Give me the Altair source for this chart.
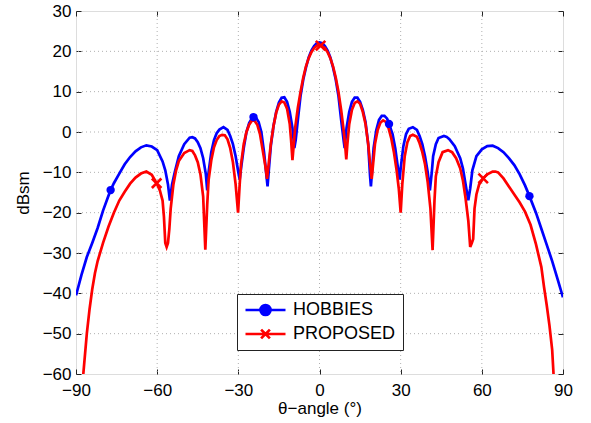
import altair as alt
import pandas as pd

# ---------------- data ----------------
series_names = ["HOBBIES", "PROPOSED"]
series_colors = ["#0000ff", "#ff0000"]

hob_angle = [-90, -88, -86, -84, -82, -80, -78, -77.2, -76, -74, -72, -70, -68, -66, -64, -62, -60,
             -58, -57, -56, -55.3, -54.5, -53.5, -52, -50, -48, -47, -46, -45, -44, -43, -42, -41.5,
             -41, -40, -39, -38, -37, -35.5, -34, -33, -32, -31, -30, -29.5, -29, -28, -27, -26,
             -25, -24.4, -23.5, -22.5, -21.5, -20.5, -19.2, -18.8, -18, -17, -16, -15, -14, -13,
             -12, -11, -10, -9.3, -8.8, -8, -7, -6, -5, -4, -3, -2, -1, 0,
             1, 2, 3, 4, 5, 6, 7, 8, 9, 9.3, 10, 11, 12, 13, 14, 15, 16, 17, 18, 18.7, 19, 19.5,
             20, 21, 22, 23, 24, 25, 25.7, 27, 28, 29, 29.6, 30, 31, 32, 33, 34.5, 36, 37, 38, 39,
             40, 40.8, 41.5, 42, 43, 44, 46, 47, 48, 50, 52, 53, 54, 55, 55.7, 56.5, 58, 60, 62,
             64, 66, 68, 70, 72, 74, 76, 77.6, 80, 82, 84, 86, 88, 90]
hob_dbsm = [-40.5, -35.5, -31, -27.5, -23.8, -19.5, -15.8, -14.4, -12.7, -10.3, -8, -6.2, -4.8, -3.8,
            -3.3, -3.6, -4.5, -7.3, -9.5, -13, -17, -13, -10, -6, -3, -1.4, -1.3, -1.6, -2.5, -4,
            -6.5, -10.5, -14.5, -10, -5, -2, -0.3, 0.6, 1.2, 0.5, -1, -3, -6, -10, -11.8, -9, -4,
            0, 2.2, 3.4, 3.7, 3.6, 2.5, 0, -5, -13.5, -10, -3.5, 1.5, 5, 7.3, 8.5, 8.6, 7.5, 5, 1,
            -4, -2, 3, 9, 13, 16, 18.5, 20.2, 21.3, 22, 22.2,
            22, 21.3, 20.2, 18.5, 16, 13, 9, 3, -2.5, -4, 1, 5, 7.5, 8.5, 8.5, 7.5, 5.5, 2.5, -3,
            -11, -13.5, -9, -4, 0.5, 3, 4, 4, 3.3, 2, -0.5, -4, -9, -11.8, -9, -3.5, -0.5, 0.8,
            1.2, 0.5, -1, -3, -6, -10, -14.5, -10, -6, -3, -1.5, -1, -1.2, -1.8, -3.5, -6.5, -9,
            -13, -16.9, -14, -9.5, -6, -4.3, -3.5, -3.4, -4, -5, -6.5, -8.2, -10.5, -13.3, -15.9,
            -20, -24, -28, -32, -36.5, -41]

pro_angle = [-88, -87.3, -86, -85, -84, -83, -82, -80, -78, -76, -74, -72, -70, -68, -66, -64, -62,
             -60.2, -59, -58, -57.5, -57, -56.5, -56, -55.5, -55, -54, -53, -52, -50, -48, -47, -46,
             -45, -44, -43, -42.2, -41.5, -41, -40, -39, -38, -37, -36, -35, -34, -33, -32, -31,
             -30.1, -29.5, -29, -28, -27, -26, -25, -24, -23, -22, -21, -20, -19.4, -18.8, -18, -17,
             -16, -15, -14, -13, -12, -11, -10.5, -10, -9.5, -9, -8, -7, -6, -5, -4, -3, -2, -1, 0,
             0.4, 1, 2, 3, 4, 5, 6, 7, 8, 9, 9.5, 9.9, 10.3, 11, 12, 13, 14, 15, 16, 17, 18, 18.8,
             19.3, 19.8, 20.5, 21.5, 22.5, 23.5, 24.5, 25.5, 26.5, 27.5, 28.5, 29.3, 30, 30.6, 31.5,
             32.5, 33.5, 34.5, 36, 37, 38, 39, 40, 41, 41.8, 42.5, 43, 44, 45.5, 47.5, 49, 50.5, 52,
             53, 54, 55, 55.7, 56.3, 56.8, 57.3, 58, 59, 60.5, 62, 64, 65, 66, 68, 70, 72, 74, 76,
             78, 80, 82, 83, 84, 85, 86, 86.5, 87]
pro_dbsm = [-68, -60, -50, -44, -39, -35, -32, -27.5, -23.5, -20, -17, -14.8, -12.8, -11.3, -10.3,
            -9.8, -10.6, -12.7, -14.5, -17, -21, -27.5, -28.5, -27.5, -24, -19, -13, -9.5, -7.2,
            -5.2, -4.5, -4.7, -5.8, -7.5, -10.5, -16, -29.2, -18, -12, -7, -3.8, -2, -1, -0.7,
            -0.8, -1.8, -4, -7.5, -13, -20, -13, -8, -3, 0, 1.8, 2.8, 2.8, 1.8, -0.5, -4.5, -8.5,
            -11.6, -8, -3, 1.5, 4.8, 6.8, 7.6, 7.3, 5.8, 2, -2, -7, -3, 1, 6, 10, 13.5, 16.3, 18.3,
            19.8, 20.8, 21.4, 21.6,
            21.4, 21.2, 20.8, 19.8, 18.3, 16.3, 13.5, 10, 5.5, 0, -3.5, -6.8, -3, 2, 5.5, 7.2, 7.6,
            7, 5, 2, -3, -8.5, -11.6, -8, -3, 0.5, 2.3, 2.9, 2.5, 1, -1.5, -5, -9.5, -14, -20, -13,
            -6, -2.5, -1, -0.7, -1.2, -2.8, -5, -8, -12.5, -19, -29.3, -17, -11, -7.5, -5, -4.5,
            -5, -6.5, -9, -12, -16.5, -22, -28.5, -27.5, -26.5, -19, -15.5, -13, -11.5, -10.5,
            -9.8, -9.8, -10, -11.5, -13.5, -15.5, -17.5, -19.8, -23, -27.8, -33.5, -38.5, -43, -48,
            -54, -60, -66]

hob_marker_angle = [-77.2, -24.4, 25.7, 77.6]
hob_marker_dbsm = [-14.4, 3.7, 2.0, -15.9]
pro_marker_angle = [-60.2, 0.4, 60.5]
pro_marker_dbsm = [-12.7, 21.4, -11.5]

x_ticks = [-90, -60, -30, 0, 30, 60, 90]
y_ticks = [-60, -50, -40, -30, -20, -10, 0, 10, 20, 30]

# ---------------- tables ----------------
hob_df = pd.DataFrame({"angle": hob_angle, "dbsm": hob_dbsm})
pro_df = pd.DataFrame({"angle": pro_angle, "dbsm": pro_dbsm})
hob_mk = pd.DataFrame({"angle": hob_marker_angle, "dbsm": hob_marker_dbsm})
pro_mk = pd.DataFrame({"angle": pro_marker_angle, "dbsm": pro_marker_dbsm})
xgrid_df = pd.DataFrame({"angle": x_ticks[1:-1]})
ygrid_df = pd.DataFrame({"dbsm": y_ticks[1:-1]})
legend_df = pd.DataFrame({"series": series_names, "angle": [0, 0], "dbsm": [-1000, -1000]})

FONT = "Liberation Sans"
xscale = alt.Scale(domain=[-90, 90], nice=False, zero=False)
yscale = alt.Scale(domain=[-60, 30], nice=False, zero=False)

x_axis = alt.Axis(values=x_ticks, grid=False, domain=False, offset=-5, tickSize=5,
                  tickColor="#222", tickWidth=1, labelPadding=8, labelFontSize=17,
                  labelFont=FONT, labelColor="#000", title="θ−angle (°)",
                  titleFont=FONT, titleFontSize=17, titleFontWeight="normal",
                  titleColor="#000", titlePadding=2, labelFlush=False)
y_axis = alt.Axis(values=y_ticks, grid=False, domain=False, offset=-5, tickSize=5,
                  tickColor="#222", tickWidth=1, labelPadding=5, labelFontSize=17,
                  labelFont=FONT, labelColor="#000", title="dBsm",
                  titleFont=FONT, titleFontSize=17, titleFontWeight="normal",
                  titleColor="#000", titlePadding=10, labelFlush=False)
x_axis_top = alt.Axis(orient="top", values=x_ticks, grid=False, domain=False, offset=-5,
                      tickSize=5, tickColor="#222", labels=False, title=None)
y_axis_right = alt.Axis(orient="right", values=y_ticks, grid=False, domain=False, offset=-5,
                        tickSize=5, tickColor="#222", labels=False, title=None)

grid_style = dict(color="#b0b0b0", strokeWidth=1, strokeDash=[1, 3])
xgrid = alt.Chart(xgrid_df).mark_rule(**grid_style).encode(
    x=alt.X("angle:Q", scale=xscale, axis=x_axis))
ygrid = alt.Chart(ygrid_df).mark_rule(**grid_style).encode(
    y=alt.Y("dbsm:Q", scale=yscale, axis=y_axis))

hob_line = alt.Chart(hob_df).mark_line(color="#0000ff", strokeWidth=2.7, clip=True).encode(
    x=alt.X("angle:Q", scale=xscale), y=alt.Y("dbsm:Q", scale=yscale))
pro_line = alt.Chart(pro_df).mark_line(color="#ff0000", strokeWidth=2.7, clip=True).encode(
    x=alt.X("angle:Q", scale=xscale), y=alt.Y("dbsm:Q", scale=yscale))

hob_pts = alt.Chart(hob_mk).mark_circle(color="#0000ff", size=70, opacity=1).encode(
    x=alt.X("angle:Q", scale=xscale), y=alt.Y("dbsm:Q", scale=yscale))
x_path = "M-1,-1L1,1M-1,1L1,-1"
pro_pts = alt.Chart(pro_mk).mark_point(shape=x_path, size=90, color="#ff0000",
                                       strokeWidth=2.6, filled=False, opacity=1).encode(
    x=alt.X("angle:Q", scale=xscale), y=alt.Y("dbsm:Q", scale=yscale))

# legend symbols: a line segment with the marker in the middle
hob_sym = "M-1,0L1,0M-0.25,0A0.25,0.25,0,1,0,0.25,0A0.25,0.25,0,1,0,-0.25,0Z"
pro_sym = "M-1,0L1,0M-0.22,-0.22L0.22,0.22M-0.22,0.22L0.22,-0.22"
leg = alt.Legend(orient="none", legendX=161, legendY=283, title=None, fillColor="white",
                 strokeColor="#222", padding=7, labelFont=FONT, labelFontSize=18,
                 labelColor="#000", labelOffset=6, symbolSize=1600, symbolStrokeWidth=2.7,
                 rowPadding=6, clipHeight=18, labelLimit=300)
legend_layer = alt.Chart(legend_df).mark_point(filled=True, clip=True, size=1600,
                                               strokeWidth=2.7, opacity=1).encode(
    x=alt.X("angle:Q", scale=xscale),
    y=alt.Y("dbsm:Q", scale=yscale),
    shape=alt.Shape("series:N", scale=alt.Scale(domain=series_names, range=[hob_sym, pro_sym]),
                    legend=leg),
    fill=alt.Fill("series:N", scale=alt.Scale(domain=series_names, range=series_colors),
                  legend=leg),
    stroke=alt.Stroke("series:N", scale=alt.Scale(domain=series_names, range=series_colors),
                      legend=leg),
)

# top/right inward ticks
box_ticks = alt.Chart(xgrid_df).mark_rule(opacity=0).encode(
    x=alt.X("angle:Q", scale=xscale, axis=x_axis_top),
    y=alt.Y("angle:Q", scale=yscale, axis=y_axis_right))

main = alt.layer(xgrid, ygrid, hob_line, pro_line, hob_pts, pro_pts, legend_layer)
chart = alt.layer(main, box_ticks).resolve_axis(x="independent", y="independent").properties(
    width=487, height=363,
    autosize=alt.AutoSizeParams(type="none"),
    padding={"left": 76, "top": 11, "right": 28, "bottom": 49},
).configure_view(stroke="#222", strokeWidth=1).configure(background="white")

chart.save("out.html", embed_options={"renderer": "svg", "actions": False})
